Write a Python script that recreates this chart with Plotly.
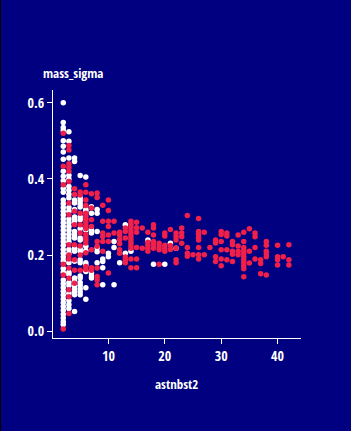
import plotly.graph_objects as go

# ---- data (x = astnbst2, y = mass_sigma) ----
white_cols = [2, 3, 4, 5, 6, 7, 8, 9, 10, 11, 12, 13, 14, 17, 18, 20, 21, 22]
white_vals = [
    [0.60, 0.548, 0.535, 0.527, 0.50, 0.486, 0.471, 0.452, 0.42, 0.407, 0.395, 0.375, 0.365,
     0.345, 0.335, 0.325, 0.315, 0.305, 0.295, 0.285, 0.275, 0.265, 0.255, 0.245, 0.235, 0.225,
     0.215, 0.205, 0.195, 0.185, 0.165, 0.155, 0.135, 0.125, 0.115, 0.105, 0.095, 0.085, 0.075,
     0.065, 0.055, 0.045, 0.035, 0.025, 0.018],
    [0.524, 0.499, 0.455, 0.41, 0.40, 0.38, 0.37, 0.36, 0.35, 0.325, 0.315, 0.295, 0.285, 0.275,
     0.265, 0.255, 0.245, 0.235, 0.215, 0.205, 0.18, 0.155, 0.15, 0.128, 0.12, 0.10, 0.08, 0.07, 0.06],
    [0.455, 0.446, 0.345, 0.337, 0.32, 0.30, 0.293, 0.288, 0.262, 0.253, 0.245, 0.218, 0.21, 0.184,
     0.14, 0.132, 0.12, 0.112, 0.104, 0.096, 0.052],
    [0.409, 0.35, 0.342, 0.334, 0.326, 0.30, 0.293, 0.27, 0.245, 0.24, 0.216, 0.21, 0.188, 0.18,
     0.145, 0.14, 0.128, 0.12, 0.112, 0.104, 0.096],
    [0.405, 0.32, 0.316, 0.266, 0.223, 0.212, 0.18, 0.174, 0.157, 0.114, 0.084],
    [0.327, 0.31, 0.265, 0.258, 0.153, 0.145, 0.14],
    [0.32, 0.31, 0.262, 0.219, 0.209, 0.18],
    [0.19, 0.183, 0.167, 0.122],
    [0.205, 0.196],
    [0.236, 0.22, 0.122],
    [0.18],
    [0.28, 0.205],
    [0.21],
    [0.24],
    [0.176],
    [0.176],
    [0.231],
    [0.218],
]

red_cols = [2, 3, 4, 5, 6, 7, 8, 9, 10, 11, 12, 13, 14, 15, 16, 17, 18, 19, 20, 21, 22, 23, 24,
            25, 26, 27, 28, 29, 30, 31, 32, 33, 34, 35, 36, 37, 38, 40, 41, 42]
red_vals = [
    [0.52, 0.433, 0.385, 0.176, 0.148, 0.006],
    [0.488, 0.476, 0.44, 0.43, 0.42, 0.393, 0.337, 0.306, 0.227, 0.2, 0.19, 0.166, 0.139, 0.109,
     0.091, 0.047],
    [0.374, 0.359, 0.315, 0.28, 0.227, 0.188, 0.16, 0.126],
    [0.366, 0.358, 0.31, 0.28, 0.258, 0.224, 0.2, 0.16],
    [0.385, 0.365, 0.345, 0.33, 0.31, 0.302, 0.294, 0.286, 0.278, 0.27, 0.254, 0.246, 0.24,
     0.232, 0.206, 0.17, 0.162],
    [0.361, 0.324, 0.293, 0.275, 0.214, 0.167, 0.16],
    [0.363, 0.351, 0.236, 0.223, 0.166, 0.144, 0.135, 0.122],
    [0.331, 0.289, 0.258, 0.249, 0.236, 0.21],
    [0.345, 0.317, 0.289, 0.275, 0.253, 0.236, 0.153],
    [0.289, 0.258],
    [0.26, 0.252, 0.241, 0.23, 0.214, 0.205],
    [0.271, 0.262, 0.245, 0.195, 0.187, 0.18],
    [0.289, 0.281, 0.273, 0.265, 0.257, 0.249, 0.241, 0.233, 0.225, 0.218, 0.19, 0.167],
    [0.286, 0.272, 0.26, 0.22, 0.19, 0.167],
    [0.271, 0.218],
    [0.26, 0.234, 0.226, 0.218, 0.21],
    [0.28, 0.271, 0.253, 0.236, 0.227, 0.218],
    [0.231, 0.222, 0.214, 0.176],
    [0.258, 0.25, 0.226, 0.218, 0.21],
    [0.267, 0.225, 0.215],
    [0.258, 0.249, 0.24, 0.218, 0.188, 0.18],
    [0.271, 0.258, 0.248, 0.231],
    [0.304, 0.22, 0.205, 0.197],
    [0.201],
    [0.296, 0.262, 0.254, 0.246, 0.24, 0.22, 0.201, 0.19],
    [0.26, 0.201],
    [0.22],
    [0.24, 0.232, 0.196, 0.183],
    [0.262, 0.254, 0.236, 0.214, 0.19, 0.172],
    [0.258, 0.25, 0.214, 0.188],
    [0.236, 0.227, 0.21, 0.202, 0.183],
    [0.253, 0.224, 0.21, 0.201],
    [0.26, 0.236, 0.22, 0.212, 0.204, 0.196, 0.188, 0.18, 0.172, 0.164, 0.143],
    [0.269, 0.21, 0.179],
    [0.258, 0.248, 0.22, 0.19],
    [0.188, 0.178, 0.151],
    [0.236, 0.226, 0.21, 0.203, 0.196, 0.148],
    [0.226, 0.196, 0.188, 0.174],
    [0.196],
    [0.227, 0.188, 0.174],
]

x_ticks = [10, 20, 30, 40]
y_ticks = [0.0, 0.2, 0.4, 0.6]
y_title = "mass_sigma"
x_title = "astnbst2"

BG = "#000080"
RED = "#f0204a"
FONT = "Open Sans Condensed, Roboto Condensed, sans-serif"

wx, wy = [], []
for c, vals in zip(white_cols, white_vals):
    for v in vals:
        wx.append(c)
        wy.append(v)
rx, ry = [], []
for c, vals in zip(red_cols, red_vals):
    for v in vals:
        rx.append(c)
        ry.append(v)

fig = go.Figure()
fig.add_trace(go.Scatter(x=wx, y=wy, mode="markers",
                         marker=dict(color="white", size=5.5, line=dict(width=0)),
                         hoverinfo="skip", showlegend=False))
fig.add_trace(go.Scatter(x=rx, y=ry, mode="markers",
                         marker=dict(color=RED, size=5.5, line=dict(width=0)),
                         hoverinfo="skip", showlegend=False))

L, R, T, B = 53, 50, 90, 93
W, H = 351, 431
pw = W - L - R
ph = H - T - B

axis_common = dict(showgrid=False, zeroline=False, showline=True, linecolor="white",
                   linewidth=1, ticks="outside", ticklen=5, tickwidth=1, tickcolor="white",
                   tickfont=dict(family=FONT, size=14, color="white", weight="bold"))

fig.update_layout(
    width=W, height=H,
    margin=dict(l=L, r=R, t=T, b=B, pad=0),
    paper_bgcolor=BG, plot_bgcolor=BG,
    showlegend=False,
    xaxis=dict(range=[0.18, 44.15], tickmode="array", tickvals=x_ticks,
               ticktext=[str(t) for t in x_ticks], **axis_common),
    yaxis=dict(range=[-0.0176, 0.6335], tickmode="array", tickvals=y_ticks,
               ticktext=["%.1f" % t for t in y_ticks], **axis_common),
    annotations=[
        dict(text=y_title, xref="paper", yref="paper", x=(41 - L) / pw, y=1 + (90 - 84) / ph,
             xanchor="left", yanchor="bottom", showarrow=False,
             font=dict(family=FONT, size=13, color="white", weight="bold")),
        dict(text=x_title, xref="paper", yref="paper", x=(176 - L) / pw, y=-(373 - (H - B)) / ph,
             xanchor="center", yanchor="top", showarrow=False,
             font=dict(family=FONT, size=13, color="white", weight="bold")),
    ],
    shapes=[dict(type="line", xref="paper", yref="paper", x0=-(L - 0.5) / pw, x1=-(L - 0.5) / pw,
                 y0=-B / ph - 0.05, y1=1 + T / ph + 0.05, line=dict(color="black", width=1))],
)

fig.write_html("out.html")
